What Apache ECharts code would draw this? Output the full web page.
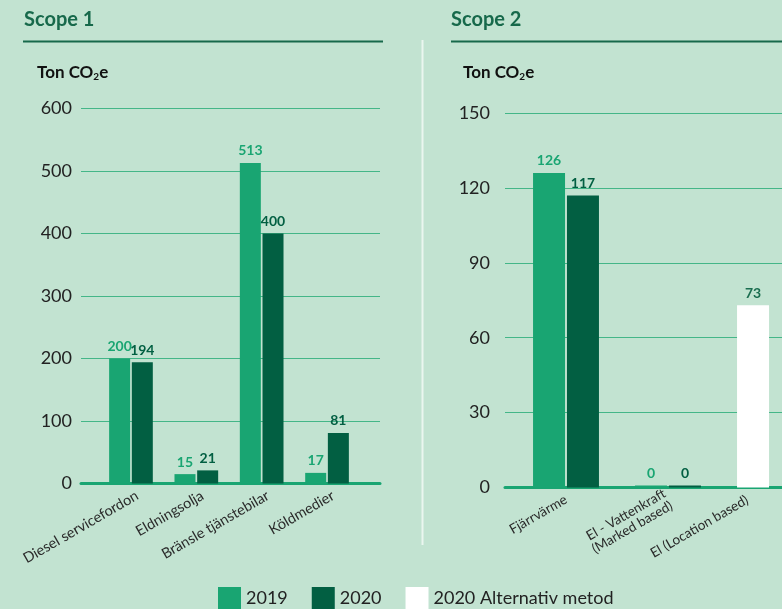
<!DOCTYPE html>
<html>
<head>
<meta charset="utf-8">
<script src="https://cdn.jsdelivr.net/npm/echarts@6/dist/echarts.min.js"></script>
<style>
html,body{margin:0;padding:0;background:#c2e3d1;}
#c{width:782px;height:609px;}
</style>
</head>
<body>
<div id="c"></div>
<script>
const scope1Categories = ['Diesel servicefordon', 'Eldningsolja', 'Bränsle tjänstebilar', 'Köldmedier'];
const scope1Values2019 = [200, 15, 513, 17];
const scope1Values2020 = [194, 21, 400, 81];
const scope1Axis = { min: 0, max: 600, interval: 100 };

const scope2Categories = ['Fjärrvärme', 'El - Vattenkraft\n(Marked based)', 'El (Location based)'];
const scope2Values2019 = [126, 0, null];
const scope2Values2020 = [117, 0, null];
const scope2ValuesAlt = [null, null, 73];
const scope2Axis = { min: 0, max: 150, interval: 30 };

const seriesNames = ['2019', '2020', '2020 Alternativ metod'];

const C2019 = '#19a572', C2020 = '#025f42', CALT = '#ffffff';
const GRID = '#44b688', TITLE = '#17694b', FONT = 'Lato';

const chart = echarts.init(document.getElementById('c'), null, {renderer: 'canvas'});

const valueLabel = (color) => ({
  show: true, position: 'top', distance: 5, color: color,
  fontFamily: FONT, fontWeight: 'bold', fontSize: 14
});

// the last Scope 2 label sits under the single white bar (nudged left)
const scope2AxisData = scope2Categories.map((c, i) =>
  i === scope2Categories.length - 1
    ? { value: c, textStyle: { verticalAlign: 'bottom', padding: [0, 20, 4, 0] } } : c);

const option = {
  backgroundColor: '#c2e3d1',
  animation: false,
  textStyle: { fontFamily: FONT },
  grid: [
    { left: 81, width: 299, top: 108.5, height: 375, outerBoundsMode: 'none' },   // 0 scope1 background
    { left: 98.3, width: 261.4, top: 108.5, height: 375, outerBoundsMode: 'none' }, // 1 scope1 bars
    { left: 505, width: 290, top: 113, height: 374.5, outerBoundsMode: 'none' },   // 2 scope2 background
    { left: 515, width: 306, top: 113, height: 374.5, outerBoundsMode: 'none' },   // 3 scope2 bars
    { left: 104.5, width: 261.4, top: 108.5, height: 375, outerBoundsMode: 'none' } // 4 scope1 category labels
  ],
  xAxis: [
    { gridIndex: 0, type: 'value', min: 0, max: 1, show: true,
      axisLine: { show: true, lineStyle: { color: C2019, width: 3 } },
      axisTick: { show: false }, axisLabel: { show: false }, splitLine: { show: false } },
    { gridIndex: 1, type: 'category', data: scope1Categories,
      axisLine: { show: false }, axisTick: { show: false }, axisLabel: { show: false } },
    { gridIndex: 2, type: 'value', min: 0, max: 1, show: true,
      axisLine: { show: true, lineStyle: { color: C2019, width: 3 } },
      axisTick: { show: false }, axisLabel: { show: false }, splitLine: { show: false } },
    { gridIndex: 3, type: 'category', data: scope2AxisData,
      axisLine: { show: false }, axisTick: { show: false },
      axisLabel: { rotate: 30, margin: 11, fontSize: 13.5, lineHeight: 14, color: '#2a2a2a', fontFamily: FONT } },
    { gridIndex: 4, type: 'category', data: scope1Categories,
      axisLine: { show: false }, axisTick: { show: false },
      axisLabel: { rotate: 30, margin: 11, fontSize: 14.5, color: '#2a2a2a', fontFamily: FONT } }
  ],
  yAxis: [
    { gridIndex: 0, type: 'value', min: scope1Axis.min, max: scope1Axis.max, interval: scope1Axis.interval,
      axisLine: { show: false }, axisTick: { show: false },
      axisLabel: { margin: 9, fontSize: 18, color: '#222', fontFamily: FONT },
      splitLine: { lineStyle: { color: GRID, width: 1.2 } } },
    { gridIndex: 1, type: 'value', min: scope1Axis.min, max: scope1Axis.max, show: false, splitLine: { show: false } },
    { gridIndex: 2, type: 'value', min: scope2Axis.min, max: scope2Axis.max, interval: scope2Axis.interval,
      axisLine: { show: false }, axisTick: { show: false },
      axisLabel: { margin: 15, fontSize: 18, color: '#222', fontFamily: FONT },
      splitLine: { lineStyle: { color: GRID, width: 1.2 } } },
    { gridIndex: 3, type: 'value', min: scope2Axis.min, max: scope2Axis.max, show: false, splitLine: { show: false } },
    { gridIndex: 4, type: 'value', min: scope1Axis.min, max: scope1Axis.max, show: false, splitLine: { show: false } }
  ],
  legend: {
    left: 218, top: 587, padding: 0, itemWidth: 23, itemHeight: 23, itemGap: 24,
    icon: 'rect', data: seriesNames,
    textStyle: { fontSize: 18, color: '#222', fontFamily: FONT, padding: [5, 0, 0, 0] }
  },
  series: [
    { name: seriesNames[0], type: 'bar', xAxisIndex: 1, yAxisIndex: 1, data: scope1Values2019,
      barWidth: 21, barGap: '8%', itemStyle: { color: C2019 }, label: valueLabel(C2019) },
    { name: seriesNames[1], type: 'bar', xAxisIndex: 1, yAxisIndex: 1, data: scope1Values2020,
      barWidth: 21, barGap: '8%', itemStyle: { color: C2020 }, label: valueLabel(C2020) },
    { name: seriesNames[0], type: 'bar', xAxisIndex: 3, yAxisIndex: 3, data: scope2Values2019, stack: 'first',
      barWidth: 32, barGap: '6%', barMinHeight: 2, itemStyle: { color: C2019 }, label: valueLabel(C2019) },
    { name: seriesNames[1], type: 'bar', xAxisIndex: 3, yAxisIndex: 3, data: scope2Values2020,
      barWidth: 32, barGap: '6%', barMinHeight: 2, itemStyle: { color: C2020 }, label: valueLabel(C2020) },
    { name: seriesNames[2], type: 'bar', xAxisIndex: 3, yAxisIndex: 3, data: scope2ValuesAlt, stack: 'first',
      barWidth: 32, itemStyle: { color: CALT }, label: valueLabel('#1b6e50') }
  ],
  graphic: [
    { type: 'text', left: 24, top: 10, style: { text: 'Scope 1', fill: TITLE, font: 'bold 20px ' + FONT } },
    { type: 'line', shape: { x1: 23, y1: 41.5, x2: 383, y2: 41.5 }, style: { stroke: TITLE, lineWidth: 2 } },
    { type: 'text', left: 451, top: 10, style: { text: 'Scope 2', fill: TITLE, font: 'bold 20px ' + FONT } },
    { type: 'line', shape: { x1: 451, y1: 41.5, x2: 782, y2: 41.5 }, style: { stroke: TITLE, lineWidth: 2 } },
    { type: 'line', shape: { x1: 422.5, y1: 40, x2: 422.5, y2: 545 }, style: { stroke: '#eaf6ef', lineWidth: 2 } },
    { type: 'text', left: 37, top: 64, style: {
        text: 'Ton CO{s|2}e', fill: '#111', font: 'bold 17px ' + FONT,
        rich: { s: { fontSize: 10, fontWeight: 'bold', fontFamily: FONT, fill: '#111', padding: [9, 0, 0, 0] } } } },
    { type: 'text', left: 463, top: 64, style: {
        text: 'Ton CO{s|2}e', fill: '#111', font: 'bold 17px ' + FONT,
        rich: { s: { fontSize: 10, fontWeight: 'bold', fontFamily: FONT, fill: '#111', padding: [9, 0, 0, 0] } } } }
  ]
};
chart.setOption(option);
</script>
</body>
</html>
